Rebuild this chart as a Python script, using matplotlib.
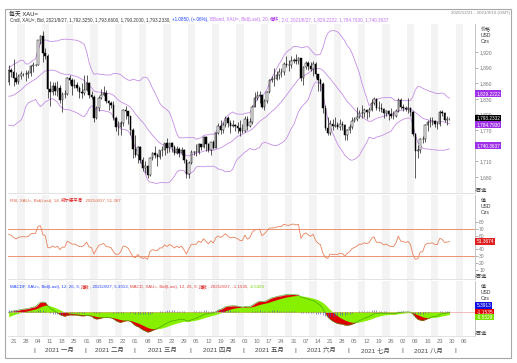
import numpy as np
import pandas as pd
import matplotlib
matplotlib.use("Agg")
import matplotlib.pyplot as plt
import matplotlib.transforms as mtransforms
import matplotlib.patches as mpatches

plt.rcParams['font.family'] = ['Liberation Sans', 'Noto Sans CJK SC']

# closes before the first drawn candle (2020/11/02 - 2020/12/16), only used to warm up the studies
warmup_close = [1895, 1908, 1903, 1949, 1951,
                1862, 1877, 1866, 1874, 1889,
                1888, 1880, 1872, 1866, 1871,
                1837, 1805, 1808, 1811, 1788,
                1777, 1815, 1831, 1841, 1839,
                1863, 1871, 1839, 1837, 1839,
                1827, 1854, 1863]

# daily candles, weekdays 2020/12/17 .. 2021/08/27 (2020/12/21 is index 0)
first_idx = -2
opens = [1863, 1886,
         1881, 1871, 1863, 1874, 1877,
         1878, 1877, 1879, 1893, 1895,
         1896, 1943, 1950, 1918, 1913,
         1849, 1844, 1855, 1845, 1851,
         1828, 1840, 1840, 1871, 1866,
         1855, 1856, 1850, 1843, 1842,
         1848, 1861, 1838, 1834, 1793,
         1813, 1832, 1838, 1842, 1825,
         1823, 1819, 1794, 1775, 1775,
         1784, 1808, 1806, 1797, 1770,
         1734, 1723, 1737, 1712, 1697,
         1700, 1683, 1716, 1726, 1722,
         1719, 1731, 1731, 1745, 1735,
         1745, 1738, 1726, 1734, 1726,
         1732, 1712, 1685, 1707, 1728,
         1728, 1728, 1743, 1737, 1756,
         1744, 1732, 1747, 1736, 1764,
         1777, 1770, 1779, 1794, 1783,
         1777, 1780, 1778, 1774, 1768,
         1768, 1792, 1778, 1785, 1815,
         1831, 1836, 1837, 1815, 1826,
         1844, 1867, 1869, 1869, 1876,
         1881, 1881, 1898, 1896, 1895,
         1903, 1905, 1903, 1908, 1871,
         1891, 1899, 1893, 1888, 1898,
         1877, 1866, 1859, 1812, 1774,
         1764, 1782, 1778, 1779, 1776,
         1781, 1779, 1761, 1770, 1776,
         1787, 1791, 1796, 1803, 1803,
         1808, 1805, 1808, 1823, 1829,
         1812, 1812, 1810, 1803, 1806,
         1801, 1798, 1798, 1806, 1828,
         1814, 1813, 1810, 1813, 1804,
         1763, 1729, 1731, 1752, 1753,
         1779, 1786, 1786, 1788, 1781,
         1781, 1805, 1802, 1790, 1792.325]
highs = [1896, 1889,
         1906, 1882, 1877, 1884, 1880,
         1886, 1886, 1895, 1900, 1897,
         1944, 1952, 1960, 1927, 1917,
         1865, 1862, 1863, 1865, 1857,
         1844, 1848, 1873, 1875, 1870,
         1868, 1862, 1854, 1860, 1875,
         1875, 1863, 1846, 1838, 1816,
         1835, 1849, 1855, 1848, 1828,
         1826, 1826, 1798, 1787, 1788,
         1811, 1816, 1806, 1798, 1774,
         1760, 1740, 1739, 1718, 1710,
         1703, 1718, 1727, 1739, 1726,
         1732, 1740, 1745, 1755, 1746,
         1748, 1742, 1740, 1738, 1737,
         1734, 1714, 1711, 1731, 1730,
         1743, 1745, 1744, 1759, 1758,
         1746, 1748, 1750, 1766, 1784,
         1790, 1785, 1797, 1798, 1790,
         1790, 1782, 1785, 1790, 1782,
         1798, 1798, 1793, 1818, 1843,
         1846, 1845, 1838, 1829, 1845,
         1869, 1874, 1890, 1883, 1890,
         1889, 1900, 1913, 1904, 1913,
         1908, 1916, 1911, 1909, 1893,
         1903, 1903, 1900, 1903, 1900,
         1878, 1870, 1862, 1818, 1795,
         1790, 1791, 1795, 1786, 1791,
         1787, 1781, 1772, 1781, 1795,
         1795, 1815, 1808, 1818, 1812,
         1810, 1815, 1829, 1834, 1832,
         1826, 1822, 1812, 1808, 1809,
         1813, 1806, 1810, 1832, 1832,
         1820, 1817, 1832, 1815, 1806,
         1765, 1742, 1755, 1758, 1781,
         1790, 1795, 1795, 1790, 1788,
         1809, 1808, 1805, 1797, 1793.66]
lows = [1856, 1872,
        1855, 1859, 1859, 1869, 1874,
        1865, 1870, 1874, 1881, 1893,
        1895, 1935, 1901, 1907, 1832,
        1817, 1837, 1838, 1836, 1822,
        1804, 1831, 1837, 1858, 1838,
        1850, 1846, 1831, 1832, 1838,
        1846, 1831, 1830, 1785, 1791,
        1806, 1829, 1836, 1822, 1808,
        1813, 1789, 1769, 1760, 1761,
        1778, 1791, 1782, 1760, 1717,
        1718, 1706, 1707, 1692, 1687,
        1677, 1682, 1713, 1717, 1700,
        1714, 1721, 1723, 1725, 1727,
        1727, 1722, 1724, 1719, 1722,
        1706, 1677, 1678, 1704, 1722,
        1721, 1724, 1731, 1735, 1730,
        1727, 1723, 1733, 1735, 1763,
        1763, 1765, 1775, 1776, 1764,
        1775, 1768, 1764, 1758, 1765,
        1767, 1770, 1776, 1782, 1814,
        1827, 1823, 1813, 1808, 1823,
        1842, 1862, 1855, 1866, 1869,
        1873, 1876, 1892, 1884, 1889,
        1899, 1897, 1897, 1864, 1856,
        1887, 1886, 1883, 1874, 1871,
        1845, 1846, 1802, 1770, 1761,
        1760, 1770, 1775, 1773, 1771,
        1771, 1750, 1751, 1764, 1773,
        1785, 1787, 1793, 1794, 1796,
        1791, 1796, 1806, 1818, 1809,
        1807, 1804, 1794, 1797, 1790,
        1793, 1791, 1795, 1804, 1810,
        1806, 1807, 1802, 1798, 1758,
        1677, 1717, 1726, 1745, 1747,
        1769, 1775, 1780, 1775, 1773,
        1778, 1798, 1785, 1779, 1790.2]
closes = [1886, 1881,
          1871, 1863, 1874, 1877, 1878,
          1877, 1879, 1893, 1895, 1896,
          1943, 1950, 1918, 1913, 1849,
          1844, 1855, 1845, 1851, 1828,
          1840, 1840, 1871, 1866, 1855,
          1856, 1850, 1843, 1842, 1848,
          1861, 1838, 1834, 1793, 1813,
          1832, 1838, 1842, 1825, 1823,
          1819, 1794, 1775, 1775, 1784,
          1808, 1806, 1797, 1770, 1734,
          1723, 1737, 1712, 1697, 1700,
          1683, 1716, 1726, 1722, 1719,
          1731, 1731, 1745, 1735, 1745,
          1738, 1726, 1734, 1726, 1732,
          1712, 1685, 1707, 1728, 1728,
          1728, 1743, 1737, 1756, 1744,
          1732, 1747, 1736, 1764, 1777,
          1770, 1779, 1794, 1783, 1777,
          1780, 1778, 1774, 1768, 1768,
          1792, 1778, 1785, 1815, 1831,
          1836, 1837, 1815, 1826, 1844,
          1867, 1869, 1869, 1876, 1881,
          1881, 1898, 1896, 1895, 1903,
          1905, 1903, 1908, 1871, 1891,
          1899, 1893, 1888, 1898, 1877,
          1866, 1859, 1812, 1774, 1764,
          1782, 1778, 1779, 1776, 1781,
          1779, 1761, 1770, 1776, 1787,
          1791, 1796, 1803, 1803, 1808,
          1805, 1808, 1823, 1829, 1812,
          1812, 1810, 1803, 1806, 1801,
          1798, 1798, 1806, 1828, 1814,
          1813, 1810, 1813, 1804, 1763,
          1729, 1731, 1752, 1753, 1779,
          1786, 1786, 1788, 1781, 1781,
          1805, 1802, 1790, 1792, 1793.233]

week_labels = ["21", "28", "04", "11", "18", "25", "01", "08", "15", "22",
               "01", "08", "15", "22", "29", "05", "12", "19", "26", "03",
               "10", "17", "24", "31", "07", "14", "21", "28", "05", "12",
               "19", "26", "02", "09", "16", "23", "30", "06"]
month_labels = ["2021 一月", "2021 二月", "2021 三月", "2021 四月",
                "2021 五月", "2021 六月", "2021 七月", "2021 八月"]
month_first_day = [9, 30, 50, 73, 95, 116, 138, 160, 182]  # weekday index of each month's first day

price_ticks = [1680, 1710, 1740, 1770, 1800, 1830, 1860, 1890, 1920]
rsi_ticks = [10, 20, 30, 40, 50, 60, 70, 80]
band_last = [1829.2222, 1784.7930, 1740.3637]
last_price = 1793.2332
rsi_last = 51.3674

# studies
all_close = pd.Series(warmup_close + closes, dtype=float)
mid = all_close.rolling(20).mean()
sd = all_close.rolling(20).std(ddof=0)
upper = mid + 2 * sd
lower = mid - 2 * sd
ema12 = all_close.ewm(span=12, adjust=False).mean()
ema26 = all_close.ewm(span=26, adjust=False).mean()
macd = ema12 - ema26
signal = macd.ewm(span=9, adjust=False).mean()
hist = macd - signal
delta = all_close.diff()
avg_gain = delta.clip(lower=0).ewm(alpha=1 / 14, adjust=False).mean()
avg_loss = (-delta.clip(upper=0)).ewm(alpha=1 / 14, adjust=False).mean()
rsi = 100 - 100 / (1 + avg_gain / avg_loss)

n = len(closes)
sl = slice(len(warmup_close), None)
x = np.arange(n) + first_idx
o = np.array(opens, float)
h = np.array(highs, float)
l = np.array(lows, float)
c = np.array(closes, float)

W, H = 517, 363
fig = plt.figure(figsize=(W / 100, H / 100), dpi=100)


def box(top, bottom, left=8, right=475):
    return [left / W, 1 - bottom / H, (right - left) / W, (bottom - top) / H]


ax_p = fig.add_axes(box(24, 193))
ax_r = fig.add_axes(box(195, 279), sharex=ax_p)
ax_m = fig.add_axes(box(281, 336), sharex=ax_p)

grey_txt = '#777777'
for ax in (ax_p, ax_r, ax_m):
    for w in range(-1, 39):
        if w % 2 == 0:
            ax.axvspan(5 * w + 1.5, 5 * w + 4.5, color='#f3f3f3', lw=0, zorder=0)
    for s in ('left', 'top'):
        ax.spines[s].set_visible(False)
    ax.spines['right'].set_color('#bbbbbb')
    ax.spines['bottom'].set_color('#dddddd')
    ax.spines['right'].set_linewidth(0.6)
    ax.spines['bottom'].set_linewidth(0.6)
    ax.yaxis.tick_right()
    ax.tick_params(axis='y', labelsize=3.6, colors=grey_txt, length=2, width=0.4, pad=1)
    ax.tick_params(axis='x', length=0)

# price panel
ax_p.vlines(x, l, h, color='black', lw=0.45, zorder=2)
up = c >= o
ax_p.bar(x[up], (c - o)[up], bottom=o[up], width=0.62, color='white',
         edgecolor='black', lw=0.35, zorder=3)
ax_p.bar(x[~up], (o - c)[~up], bottom=c[~up], width=0.62, color='black',
         edgecolor='black', lw=0.35, zorder=3)
band_col = '#c58ee6'
for band in (upper, mid, lower):
    ax_p.plot(x, band.values[sl], color=band_col, lw=0.6, zorder=1.5)
ax_p.set_ylim(1649, 1974)
ax_p.set_yticks(price_ticks)
# the 1,740 label sits under the lower band box
ax_p.set_yticklabels(["" if v == 1740 else f"{v:,}" for v in price_ticks])
ax_p.set_xlim(-2.3, 189.5)
plt.setp(ax_p.get_xticklabels(), visible=False)
plt.setp(ax_r.get_xticklabels(), visible=False)

# rsi panel
rsi_col = '#e8825c'
ax_r.plot(x, rsi.values[sl], color=rsi_col, lw=0.6)
ax_r.axhline(70, color=rsi_col, lw=0.6)
ax_r.axhline(30, color=rsi_col, lw=0.6)
ax_r.set_ylim(-3, 119.4)
ax_r.set_yticks(rsi_ticks)
ax_r.set_yticklabels(["" if v == 50 else str(v) for v in rsi_ticks])

# macd panel
m_v = macd.values[sl]
s_v = signal.values[sl]
ax_m.fill_between(x, 0, m_v, color='#e00000', lw=0, zorder=1)
ax_m.fill_between(x, 0, s_v, color='#86f000', lw=0, zorder=2)
ax_m.plot(x, m_v, color='#3c9a10', lw=0.4, zorder=3)
ax_m.axhline(0, color='#f0a0a0', lw=0.5, zorder=1.5)
ax_m.set_ylim(-44, 57)
ax_m.set_yticks([])
ax_h = ax_m.twinx()
ax_h.vlines(x, 0, hist.values[sl], color='#5a4ab8', lw=0.45)
ax_h.set_ylim(-44 * 2.0, 57 * 2.0)
ax_h.axis('off')

ax_m.set_xticks([5 * i for i in range(len(week_labels))])
ax_m.set_xticklabels(week_labels, fontsize=4.2, color=grey_txt)
ax_m.tick_params(axis='x', pad=2.5)
mtrans = mtransforms.blended_transform_factory(ax_m.transData, ax_m.transAxes)
for k, name in enumerate(month_labels):
    a, b = month_first_day[k] - 0.5, month_first_day[k + 1] - 0.5
    ax_m.text((a + b) / 2, -0.26, name, transform=mtrans, ha='center', va='center',
              fontsize=4.6, color='#444444', clip_on=False)
for d in month_first_day:
    ax_m.text(d - 0.5, -0.26, "|", transform=mtrans, ha='center', va='center',
              fontsize=4.6, color='#444444', clip_on=False)


# value boxes on the right axis
def value_box(ax, y, text, col, va='center', lift=0.0):
    tr = mtransforms.blended_transform_factory(ax.transAxes, ax.transData)
    tr = tr + mtransforms.ScaledTranslation(0, lift, fig.dpi_scale_trans)
    ax.text(1.003, y, text, transform=tr, fontsize=3.4, color='white', ha='left', va=va,
            clip_on=False, zorder=10,
            bbox=dict(boxstyle='square,pad=0.2', fc=col, ec='none'))


value_box(ax_p, band_last[0], f"{band_last[0]:,.4f}", '#a030e8', va='bottom', lift=0.035)
value_box(ax_p, band_last[1], f"{band_last[1]:,.4f}", '#a030e8', va='top')
value_box(ax_p, band_last[2], f"{band_last[2]:,.4f}", '#a030e8')
value_box(ax_p, last_price, f"{last_price:,.4f}", 'black')
value_box(ax_r, rsi_last, f"{rsi_last:.4f}", '#e02020')
value_box(ax_m, m_v[-1] - s_v[-1] + 4, "5.3913", '#1010e0', va='bottom')
value_box(ax_m, m_v[-1], "-1.1535", '#e00000')
value_box(ax_m, s_v[-1], "-6.5329", '#7ee000', va='top')


def unit_label(ax, first):
    for k, t in enumerate([first, "USD", "Ozs"]):
        tr = ax.transAxes + mtransforms.ScaledTranslation(0, -0.03 - k * 0.058, fig.dpi_scale_trans)
        ax.text(1.012, 1.0, t, transform=tr, fontsize=3.6, color='#333333', ha='left', va='top')
    ax.text(1.0, 0.0, "-百选", transform=ax.transAxes, fontsize=3.8, color='#333333',
            ha='left', va='bottom')


unit_label(ax_p, "价格")
unit_label(ax_r, "值")
unit_label(ax_m, "值")


# header lines made of coloured pieces
def pieces(ax, fx, fy, parts, size):
    t = fig.text(fx, fy, parts[0][0], color=parts[0][1], fontsize=size, va='bottom')
    for s, col in parts[1:]:
        t = ax.annotate(s, xy=(1, 0), xycoords=t, color=col, fontsize=size,
                        va='bottom', ha='left', annotation_clip=False)


fig.text(9 / W, 1 - 16 / H, "每天 XAU=", fontsize=4.2, color='#222222', va='bottom')
fig.text(510 / W, 1 - 15 / H, "2020/12/21 - 2021/9/10 (GMT)", fontsize=3.2,
         color='#888888', ha='right', va='bottom')
pieces(ax_p, 10 / W, 1 - 22 / H, [
    ("Cndl, XAU=, Bid, 2021/8/27, 1,792.3250, 1,793.6600, 1,790.2000, 1,793.2330, ", '#333333'),
    ("+1.0850, (+.06%), ", '#2040ff'),
    ("BBand, XAU=, Bid(Last), 20, ", '#c070f0'),
    ("偏移", '#a020e0'),
    (", 2.0, 2021/8/27, 1,829.2222, 1,784.7930, 1,740.3637", '#c070f0')], 3.3)
pieces(ax_r, 10 / W, 1 - 203 / H, [
    ("RSI, XAU=, Bid(Last), 14, ", '#e06040'),
    ("威尔德平滑", '#e02020'),
    (", 2021/8/27, 51.367", '#e06040')], 3.2)
pieces(ax_m, 10 / W, 1 - 289 / H, [
    ("MACDF, XAU=, Bid(Last), 12, 26, 9, ", '#2040ff'),
    ("指数", '#e02020'),
    (", 2021/8/27, 5.3913, ", '#2040ff'),
    ("MACD, XAU=, Bid(Last), 12, 26, 9, ", '#e04040'),
    ("指数", '#e02020'),
    (", 2021/8/27, -1.1535, ", '#e04040'),
    ("-6.5329", '#70d000')], 3.2)

fig.patches.append(mpatches.Rectangle((5 / W, 1 - 358 / H), 506 / W, 349 / H,
                                      transform=fig.transFigure, fill=False,
                                      ec='#a8a8a8', lw=0.8))

fig.savefig("out.png", dpi=100)
